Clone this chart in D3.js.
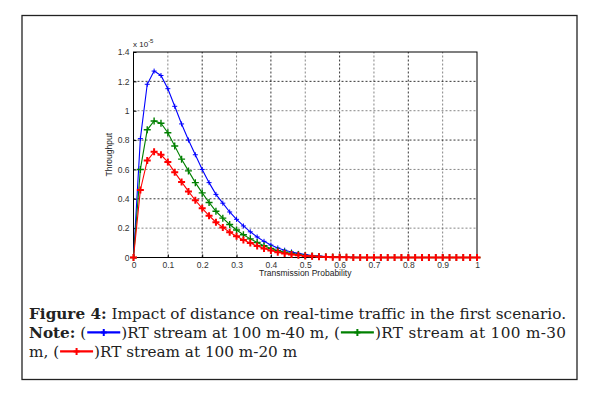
<!DOCTYPE html>
<html>
<head>
<meta charset="utf-8">
<script src="https://cdn.jsdelivr.net/npm/d3@7"></script>
<style>
  body { margin: 0; background: #fff; }
  svg { display: block; }
</style>
</head>
<body>
<div id="chart"></div>
<script>
const width = 593,
height = 397;

// transmission probability, step 0.02
const probs = d3.range(0, 51).map(i => +(i * 0.02).toFixed(2));

// throughput, units of 1e-5
const blue = [0, 0.81, 1.18, 1.27, 1.24, 1.15, 1.03, 0.91, 0.80, 0.70, 0.60, 0.51, 0.43, 0.37, 0.31, 0.26,
  0.215, 0.175, 0.14, 0.11, 0.085, 0.065, 0.05, 0.038, 0.028, 0.02, 0.014, 0.01, 0.007, 0.005, 0.003, 0.002, 0.001,
  0, 0, 0, 0, 0, 0, 0, 0, 0, 0, 0, 0, 0, 0, 0, 0, 0, 0];
const green = [0, 0.60, 0.87, 0.93, 0.915, 0.85, 0.76, 0.67, 0.59, 0.51, 0.44, 0.375, 0.315, 0.268, 0.225, 0.187,
  0.155, 0.127, 0.102, 0.08, 0.062, 0.047, 0.036, 0.027, 0.02, 0.014, 0.01, 0.007, 0.005, 0.003, 0.002, 0.001, 0.0005,
  0, 0, 0, 0, 0, 0, 0, 0, 0, 0, 0, 0, 0, 0, 0, 0, 0, 0];
const red = [0, 0.46, 0.66, 0.72, 0.70, 0.65, 0.58, 0.515, 0.45, 0.39, 0.335, 0.285, 0.24, 0.205, 0.172, 0.145,
  0.12, 0.098, 0.078, 0.062, 0.048, 0.036, 0.028, 0.021, 0.015, 0.011, 0.008, 0.005, 0.004, 0.002, 0.0015, 0.001, 0,
  0, 0, 0, 0, 0, 0, 0, 0, 0, 0, 0, 0, 0, 0, 0, 0, 0, 0];

const xTicks = [0, 0.1, 0.2, 0.3, 0.4, 0.5, 0.6, 0.7, 0.8, 0.9, 1];
const yTicks = [0, 0.2, 0.4, 0.6, 0.8, 1, 1.2, 1.4];

const series = [
  {name: "blue", values: blue, color: "#0000ff", mk: 2.5, mw: 1},
  {name: "green", values: green, color: "#008000", mk: 3.5, mw: 1.4},
  {name: "red", values: red, color: "#ff0000", mk: 3.5, mw: 2}
];

const svg = d3.select("#chart")
            .append("svg")
            .attr("width", width)
            .attr("height", height);

// outer frame
svg.append("rect")
  .attr("x", 22).attr("y", 15.5)
  .attr("width", 555).attr("height", 364)
  .attr("fill", "none")
  .attr("stroke", "#222")
  .attr("stroke-width", 1.3);

const x = d3.scaleLinear().domain([0, 1]).range([133.5, 477]);
const y = d3.scaleLinear().domain([0, 1.4]).range([257.5, 52]);

const g = svg.append("g");

// grid
g.selectAll("line.gx")
  .data(xTicks.slice(1, -1))
  .join("line")
  .attr("x1", d => x(d)).attr("x2", d => x(d))
  .attr("y1", y(0)).attr("y2", y(1.4))
  .attr("stroke", (d, i) => i % 2 ? "#000" : "#666")
  .attr("stroke-width", 0.8)
  .attr("stroke-dasharray", "2,2");

g.selectAll("line.gy")
  .data(yTicks.slice(1, -1))
  .join("line")
  .attr("x1", x(0)).attr("x2", x(1))
  .attr("y1", d => y(d)).attr("y2", d => y(d))
  .attr("stroke", (d, i) => i % 2 ? "#000" : "#666")
  .attr("stroke-width", 0.8)
  .attr("stroke-dasharray", "2,2");

// axes
const xAxis = d3.axisBottom(x).tickValues(xTicks).tickSize(-3).tickPadding(4).tickFormat(d3.format("~g"));
const yAxis = d3.axisLeft(y).tickValues(yTicks).tickSize(-3).tickPadding(4).tickFormat(d3.format("~g"));

g.append("g").attr("transform", `translate(0,${y(0)})`).call(xAxis);
g.append("g").attr("transform", `translate(${x(0)},0)`).call(yAxis);
g.selectAll(".domain").remove();
g.selectAll(".tick text")
  .style("font-family", "Arial, 'Liberation Sans', sans-serif")
  .style("font-size", "8.5px")
  .attr("fill", "#333");
g.selectAll(".tick line").attr("stroke", "#000");

g.append("rect")
  .attr("x", x(0)).attr("y", y(1.4))
  .attr("width", x(1) - x(0)).attr("height", y(0) - y(1.4))
  .attr("fill", "none")
  .attr("stroke", "#000")
  .attr("stroke-width", 1);

// lines and markers
const line = d3.line()
  .x((d, i) => x(probs[i]))
  .y(d => y(d));

series.forEach(s => {
  g.append("path")
    .datum(s.values)
    .attr("d", line)
    .attr("fill", "none")
    .attr("stroke", s.color)
    .attr("stroke-width", 1.1);

  g.selectAll(`path.m-${s.name}`)
    .data(s.values)
    .join("path")
    .attr("transform", (d, i) => `translate(${x(probs[i])},${y(d)})`)
    .attr("d", `M${-s.mk},0H${s.mk}M0,${-s.mk}V${s.mk}`)
    .attr("stroke", s.color)
    .attr("stroke-width", s.mw);
});

// axis labels
const lab = svg.append("g")
  .style("font-family", "Arial, 'Liberation Sans', sans-serif")
  .attr("fill", "#222");

lab.append("text")
  .attr("x", (x(0) + x(1)) / 2).attr("y", 276)
  .attr("text-anchor", "middle")
  .style("font-size", "8.5px")
  .text("Transmission Probability");

lab.append("text")
  .attr("transform", `translate(112,${(y(0) + y(1.4)) / 2}) rotate(-90)`)
  .attr("text-anchor", "middle")
  .style("font-size", "8.5px")
  .text("Throughput");

const exp = lab.append("text")
  .attr("x", 133).attr("y", 47)
  .style("font-size", "8px");
exp.append("tspan").text("x 10");
exp.append("tspan").attr("dy", -4).style("font-size", "6px").text("-5");

// caption
const left = 29, right = 566;

const cap = svg.append("g")
  .style("font-family", "'DejaVu Serif', 'Liberation Serif', serif")
  .style("font-size", "14px")
  .attr("fill", "#222");

const l1 = cap.append("text").attr("x", left).attr("y", 318.5);
l1.append("tspan").style("font-weight", "bold").text("Figure 4:");
l1.append("tspan").text(" Impact of distance on real-time traffic in the first scenario.");

// size the caption font so the first line fills the box width
const fs = 14 * (right - left) / l1.node().getComputedTextLength();
cap.style("font-size", fs + "px");
l1.attr("textLength", right - left).attr("lengthAdjust", "spacing");

function sample(xp, yp, color, w) {
  cap.append("line")
    .attr("x1", xp).attr("x2", xp + w)
    .attr("y1", yp).attr("y2", yp)
    .attr("stroke", color).attr("stroke-width", 2.2);
  cap.append("path")
    .attr("transform", `translate(${xp + w / 2},${yp})`)
    .attr("d", "M-3,0H3M0,-3.5V3.5")
    .attr("stroke", color).attr("stroke-width", 2);
}

// lay out a row of text pieces and line samples one after another
function row(pieces, yp, justify) {
  let cx = left;
  const nodes = [];
  pieces.forEach(p => {
    if (p.sample) {
      sample(cx + 1, yp - fs * 0.33, p.sample, 33);
      cx += 35;
      return;
    }
    const t = cap.append("text").attr("x", cx).attr("y", yp)
      .attr("xml:space", "preserve").text(p.t);
    if (p.bold) t.style("font-weight", "bold");
    nodes.push(t);
    cx += t.node().getComputedTextLength();
  });
  if (justify && cx < right) {
    const last = nodes[nodes.length - 1];
    last.attr("textLength", last.node().getComputedTextLength() + (right - cx))
      .attr("lengthAdjust", "spacing");
  }
}

row([
  {t: "Note:", bold: true},
  {t: " ("},
  {sample: "#0000ff"},
  {t: ")RT stream at 100 m-40 m, ("},
  {sample: "#008000"},
  {t: ")RT stream at 100 m-30"}
], 337.5, true);

row([
  {t: "m, ("},
  {sample: "#ff0000"},
  {t: ")RT stream at 100 m-20 m"}
], 356.5, false);
</script>
</body>
</html>
